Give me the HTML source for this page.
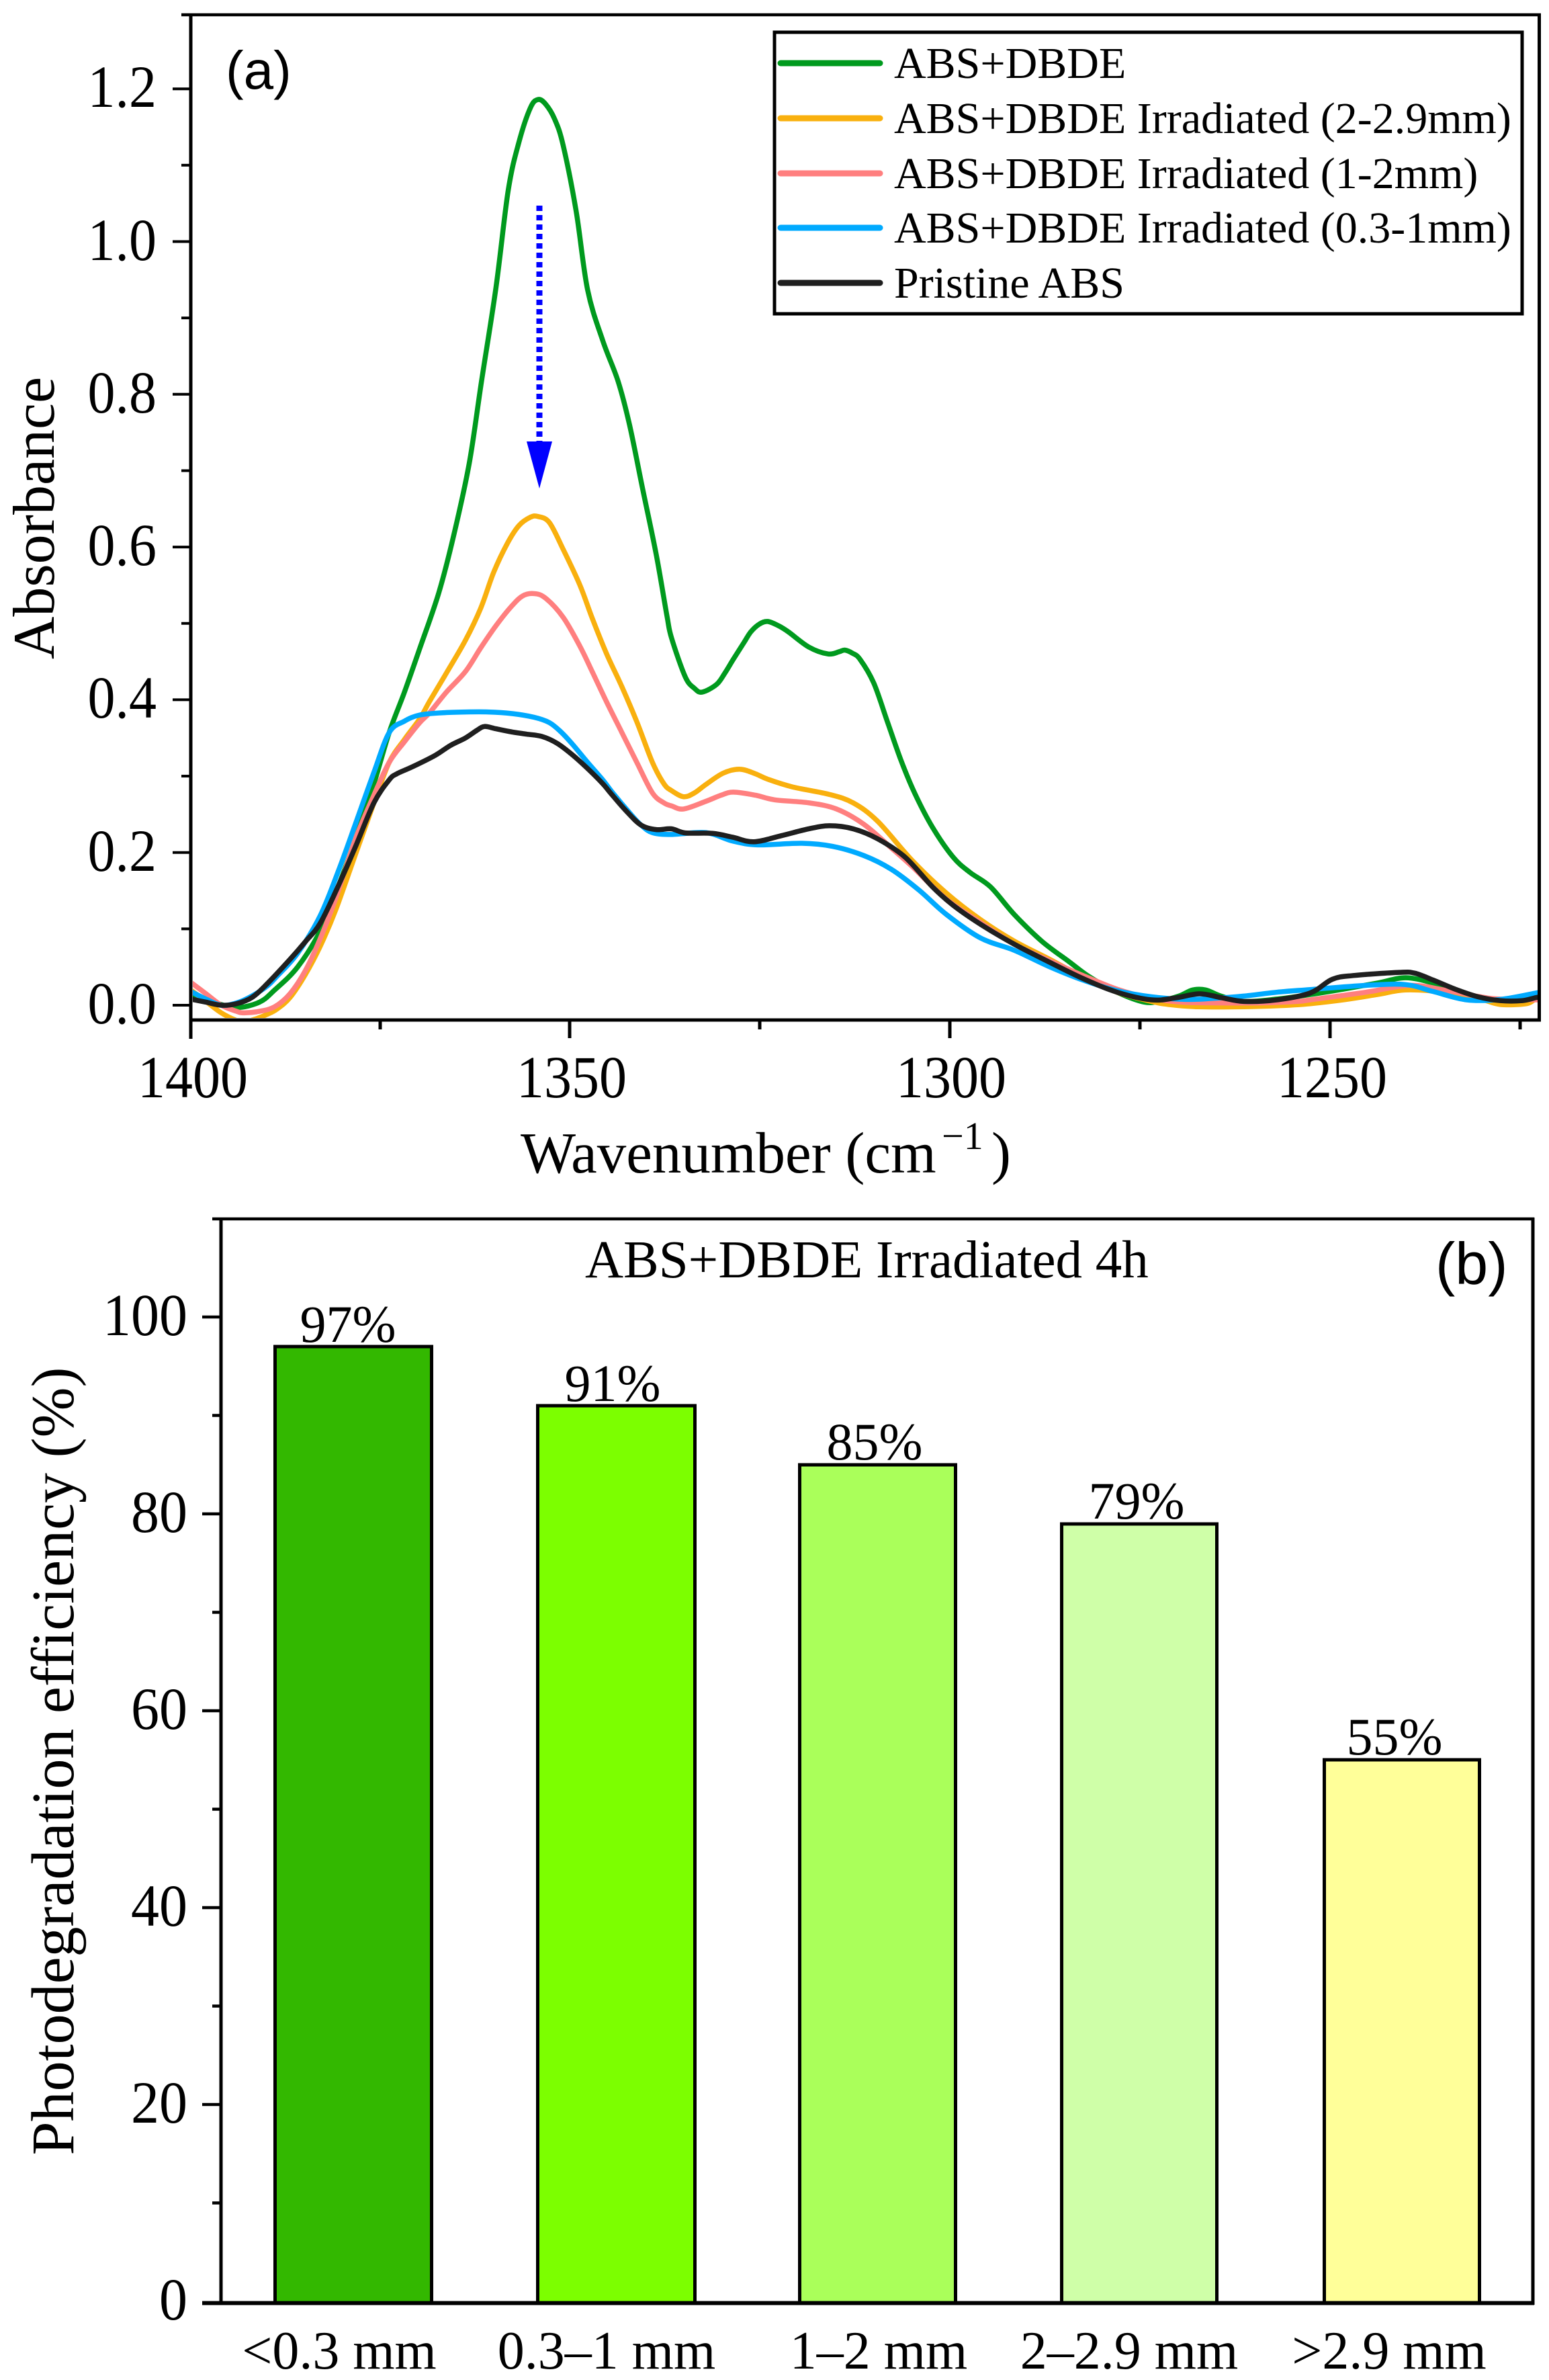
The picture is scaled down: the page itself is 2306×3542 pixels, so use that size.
<!DOCTYPE html>
<html>
<head>
<meta charset="utf-8">
<style>
  html,body{margin:0;padding:0;background:#fff;}
  svg{display:block;}
  .serif{font-family:"Liberation Serif","Times New Roman",serif;fill:#000;}
  .sans{font-family:"Liberation Sans",Arial,sans-serif;fill:#000;}
</style>
</head>
<body>
<svg id="fig" width="2306" height="3542" viewBox="0 0 2306 3542" xmlns="http://www.w3.org/2000/svg">
<defs>
  <clipPath id="clipA"><rect x="287" y="24" width="2003" height="1491"/></clipPath>
</defs>
<rect x="0" y="0" width="2306" height="3542" fill="#fff"/>

<!-- ================= PANEL A ================= -->
<g id="curvesOuter" clip-path="url(#clipA)">
 <g id="curvesInner" transform="matrix(-11.36 0 0 -1136.5 16188 1496)" fill="none" stroke-linejoin="round" stroke-linecap="round">
  <polyline class="crv" vector-effect="non-scaling-stroke" stroke="#009A1E" stroke-width="7.5" points="1400,0.015 1397,0.004 1394,-0.003 1391,0.004 1389,0.02 1386,0.05 1383,0.098 1380.5,0.16 1378.4,0.218 1376,0.29 1374,0.357 1372,0.41 1370,0.467 1367.5,0.54 1365.5,0.617 1363.5,0.71 1361.9,0.817 1360,0.94 1358.4,1.067 1357,1.13 1355.5,1.175 1354.5,1.186 1353.5,1.18 1352.3,1.16 1351.2,1.126 1349.5,1.04 1348,0.937 1346,0.87 1344,0.817 1342.5,0.76 1340.8,0.677 1339,0.59 1337.6,0.51 1337,0.481 1335.2,0.43 1334,0.415 1333,0.41 1331.1,0.42 1330,0.435 1328.9,0.453 1327.5,0.475 1326.6,0.489 1325.5,0.499 1324.4,0.5025 1323,0.497 1321.7,0.489 1319,0.469 1316.5,0.46 1315,0.463 1314.3,0.465 1313.3,0.461 1312.3,0.453 1310.5,0.422 1308.7,0.371 1306.9,0.32 1305.1,0.277 1302.8,0.233 1300.1,0.194 1297.9,0.174 1295.2,0.155 1292.1,0.119 1288.5,0.084 1284.9,0.057 1282.2,0.037 1278.6,0.017 1275,0.004 1272.8,0.006 1270.5,0.012 1268.7,0.02 1267,0.02 1265,0.012 1262,0.005 1257.7,0.008 1253.3,0.014 1249,0.021 1244.5,0.029 1240.8,0.036 1237.2,0.029 1234.3,0.019 1231.3,0.01 1228.4,0.005 1223.7,0.009 1222,0.011"/>
  <polyline class="crv" vector-effect="non-scaling-stroke" stroke="#F9B00E" stroke-width="7.5" points="1400,0.02 1398,0.005 1396,-0.01 1394,-0.02 1393,-0.022 1391.5,-0.018 1390,-0.012 1388.7,-0.005 1387,0.01 1385,0.04 1383,0.078 1381,0.125 1378.4,0.198 1376,0.265 1374,0.318 1372,0.348 1370,0.375 1368.7,0.398 1366.5,0.435 1364,0.478 1362,0.52 1360.3,0.567 1358.5,0.605 1357,0.628 1355.5,0.639 1354.5,0.64 1353,0.632 1351.2,0.597 1349,0.55 1347.4,0.507 1345.5,0.46 1343.5,0.417 1341.5,0.37 1339.5,0.318 1338,0.29 1337,0.281 1335.4,0.273 1334,0.278 1332.5,0.289 1330.2,0.304 1328,0.309 1326,0.303 1324.4,0.296 1321.2,0.286 1316.3,0.276 1313.2,0.265 1310,0.241 1305.5,0.19 1301,0.147 1296.5,0.112 1292.1,0.084 1287.6,0.061 1283.1,0.037 1278.6,0.017 1274.1,0.005 1271.9,0.001 1268,-0.002 1262,-0.002 1256,0.0 1253.3,0.002 1249,0.007 1244.5,0.014 1240.8,0.02 1235.8,0.017 1231,0.008 1228.4,0.001 1225,0.002 1223.7,0.008 1222,0.009"/>
  <polyline class="crv" vector-effect="non-scaling-stroke" stroke="#FF7F7F" stroke-width="7.5" points="1400,0.03 1398,0.015 1396,0.0 1394,-0.008 1393,-0.01 1391,-0.008 1389,-0.002 1387,0.015 1385,0.045 1383,0.088 1381,0.14 1378.4,0.218 1376,0.275 1374,0.318 1372,0.345 1370,0.37 1368.7,0.383 1366.5,0.41 1364,0.437 1362,0.468 1360,0.497 1358,0.522 1356.5,0.536 1355,0.539 1353.5,0.533 1351.2,0.508 1349,0.47 1347.4,0.437 1345.5,0.397 1343.5,0.357 1341.5,0.317 1339.5,0.278 1338,0.265 1337,0.261 1335.4,0.257 1332.5,0.267 1330.5,0.275 1328.9,0.279 1326,0.275 1323.5,0.269 1319,0.265 1315.4,0.257 1311.8,0.237 1308.2,0.206 1305.5,0.182 1301,0.139 1296.5,0.108 1292.1,0.08 1287.6,0.059 1283.1,0.039 1278.6,0.021 1274.1,0.009 1270,0.004 1265,0.003 1260,0.003 1255,0.005 1253.3,0.007 1246,0.017 1240.2,0.026 1235.8,0.02 1231,0.011 1228.4,0.008 1223.7,0.007 1222,0.007"/>
  <polyline class="crv" vector-effect="non-scaling-stroke" stroke="#00AAFF" stroke-width="7.5" points="1400,0.018 1398,0.008 1396,0.0 1394,0.003 1392,0.012 1390,0.025 1388.7,0.038 1386,0.068 1383,0.118 1380.5,0.18 1378.4,0.238 1376,0.305 1374,0.357 1372,0.372 1370,0.38 1367,0.383 1364,0.384 1361,0.384 1358,0.382 1355,0.377 1353,0.37 1351.5,0.358 1350,0.342 1348,0.318 1346,0.295 1344.7,0.278 1342.5,0.252 1341,0.236 1339.5,0.226 1337,0.2236 1332.5,0.226 1329,0.215 1325.7,0.21 1319.9,0.212 1315.9,0.208 1311.8,0.196 1308.2,0.178 1304.6,0.151 1301,0.119 1296.5,0.088 1292.1,0.072 1287.6,0.051 1283.1,0.033 1278.6,0.019 1274.1,0.011 1269.6,0.0076 1266,0.009 1262,0.012 1257.7,0.017 1253.3,0.0205 1246,0.026 1240.8,0.027 1237.2,0.018 1232.8,0.007 1228.4,0.0076 1223.7,0.016 1222,0.02"/>
  <polyline class="crv" vector-effect="non-scaling-stroke" stroke="#1F1F1F" stroke-width="7.5" points="1400,0.008 1398,0.004 1396,0.0 1394,0.002 1392,0.01 1390,0.028 1387,0.06 1385,0.083 1383,0.108 1380.5,0.16 1378.4,0.208 1376,0.265 1374,0.295 1373,0.303 1371,0.312 1368,0.327 1366,0.34 1364,0.35 1362.5,0.36 1361.5,0.365 1360,0.362 1358,0.358 1356,0.355 1354,0.352 1352,0.343 1350,0.328 1348,0.31 1346,0.29 1345,0.278 1343,0.255 1341,0.236 1339,0.23 1337,0.231 1335.2,0.2256 1331.6,0.225 1329,0.22 1326.2,0.214 1322.6,0.222 1319,0.231 1316.3,0.235 1313.2,0.231 1310,0.218 1306.4,0.194 1302.8,0.155 1300.1,0.131 1296.5,0.106 1292.1,0.08 1287.6,0.057 1283.1,0.035 1278.6,0.017 1274.1,0.007 1271,0.0095 1267.8,0.015 1265,0.01 1262,0.005 1257.7,0.007 1253.3,0.016 1250.4,0.034 1247.5,0.039 1241.6,0.043 1239.6,0.042 1237.2,0.033 1234.3,0.021 1231.3,0.011 1228.4,0.006 1225.5,0.006 1223.7,0.01 1222,0.013"/>
 </g>
</g>

<!-- blue dotted arrow -->
<line x1="803" y1="306" x2="803" y2="660" stroke="#0000FF" stroke-width="9" stroke-dasharray="8 6"/>
<polygon points="784,657 822,657 803,727" fill="#0000FF"/>

<!-- frame A -->
<g stroke="#000" fill="none">
  <line x1="270" y1="22" x2="2294" y2="22" stroke-width="4.5"/>
  <line x1="2291.5" y1="20" x2="2291.5" y2="1520" stroke-width="5"/>
  <line x1="284" y1="20" x2="284" y2="1546" stroke-width="5"/>
  <line x1="282" y1="1518" x2="2294" y2="1518" stroke-width="5"/>
  <g stroke-width="4">
    <line x1="257" y1="1496" x2="284" y2="1496"/>
    <line x1="270" y1="1382.35" x2="284" y2="1382.35"/>
    <line x1="257" y1="1268.7" x2="284" y2="1268.7"/>
    <line x1="270" y1="1155.05" x2="284" y2="1155.05"/>
    <line x1="257" y1="1041.4" x2="284" y2="1041.4"/>
    <line x1="270" y1="927.75" x2="284" y2="927.75"/>
    <line x1="257" y1="814.1" x2="284" y2="814.1"/>
    <line x1="270" y1="700.45" x2="284" y2="700.45"/>
    <line x1="257" y1="586.8" x2="284" y2="586.8"/>
    <line x1="270" y1="473.15" x2="284" y2="473.15"/>
    <line x1="257" y1="359.5" x2="284" y2="359.5"/>
    <line x1="270" y1="245.85" x2="284" y2="245.85"/>
    <line x1="257" y1="132.2" x2="284" y2="132.2"/>
  </g>
  <g stroke-width="5">
    <line x1="566" y1="1518" x2="566" y2="1532"/>
    <line x1="848" y1="1518" x2="848" y2="1545"/>
    <line x1="1131" y1="1518" x2="1131" y2="1532"/>
    <line x1="1414" y1="1518" x2="1414" y2="1545"/>
    <line x1="1697" y1="1518" x2="1697" y2="1532"/>
    <line x1="1980" y1="1518" x2="1980" y2="1545"/>
    <line x1="2263" y1="1518" x2="2263" y2="1532"/>
  </g>
</g>

<!-- y tick labels A -->
<g class="serif" font-size="82" text-anchor="end">
  <text transform="translate(233,1523) scale(1,1.08)">0.0</text>
  <text transform="translate(233,1296) scale(1,1.08)">0.2</text>
  <text transform="translate(233,1068) scale(1,1.08)">0.4</text>
  <text transform="translate(233,841) scale(1,1.08)">0.6</text>
  <text transform="translate(233,614) scale(1,1.08)">0.8</text>
  <text transform="translate(233,387) scale(1,1.08)">1.0</text>
  <text transform="translate(233,159) scale(1,1.08)">1.2</text>
</g>
<!-- x tick labels A -->
<g class="serif" font-size="82" text-anchor="middle">
  <text transform="translate(287,1633) scale(1,1.08)">1400</text>
  <text transform="translate(851,1633) scale(1,1.08)">1350</text>
  <text transform="translate(1416,1633) scale(1,1.08)">1300</text>
  <text transform="translate(1983,1633) scale(1,1.08)">1250</text>
</g>
<!-- axis titles A -->
<text class="serif" font-size="88" text-anchor="middle" transform="translate(80,771) rotate(-90)">Absorbance</text>
<text class="serif" font-size="87" x="775" y="1745">Wavenumber (cm</text>
<text class="serif" font-size="58" x="1402" y="1710">−1</text>
<text class="serif" font-size="87" x="1476" y="1745">)</text>
<!-- (a) -->
<text class="sans" font-size="80" x="336" y="132">(a)</text>

<!-- legend -->
<rect x="1153" y="48" width="1113" height="419" fill="#fff" stroke="#000" stroke-width="5"/>
<g stroke-width="9" stroke-linecap="round">
  <line x1="1162" y1="94" x2="1310" y2="94" stroke="#009A1E"/>
  <line x1="1162" y1="176" x2="1310" y2="176" stroke="#F9B00E"/>
  <line x1="1162" y1="258" x2="1310" y2="258" stroke="#FF7F7F"/>
  <line x1="1162" y1="339" x2="1310" y2="339" stroke="#00AAFF"/>
  <line x1="1162" y1="421" x2="1310" y2="421" stroke="#1F1F1F"/>
</g>
<g class="serif" font-size="66">
  <text x="1331" y="116">ABS+DBDE</text>
  <text x="1331" y="198">ABS+DBDE Irradiated (2-2.9mm)</text>
  <text x="1331" y="280">ABS+DBDE Irradiated (1-2mm)</text>
  <text x="1331" y="361">ABS+DBDE Irradiated (0.3-1mm)</text>
  <text x="1331" y="443">Pristine ABS</text>
</g>

<!-- ================= PANEL B ================= -->
<g stroke="#000" stroke-width="5" stroke-linejoin="miter">
  <rect x="409.5" y="2004" width="233" height="1423" fill="#33B800"/>
  <rect x="800.5" y="2092" width="234" height="1335" fill="#7CFF00"/>
  <rect x="1190.5" y="2180" width="232" height="1247" fill="#AAFF5A"/>
  <rect x="1580.5" y="2268" width="231" height="1159" fill="#CFFFA8"/>
  <rect x="1971.5" y="2619" width="231" height="808" fill="#FFFF99"/>
</g>

<g stroke="#000" fill="none">
  <line x1="316" y1="1814" x2="2284" y2="1814" stroke-width="4.5"/>
  <line x1="2282" y1="1812" x2="2282" y2="3430" stroke-width="5"/>
  <line x1="329" y1="1812" x2="329" y2="3430" stroke-width="5"/>
  <line x1="301" y1="3427.5" x2="2284" y2="3427.5" stroke-width="6"/>
  <g stroke-width="4.5">
    <line x1="301" y1="3132" x2="329" y2="3132"/>
    <line x1="301" y1="2839" x2="329" y2="2839"/>
    <line x1="301" y1="2546" x2="329" y2="2546"/>
    <line x1="301" y1="2253" x2="329" y2="2253"/>
    <line x1="301" y1="1960" x2="329" y2="1960"/>
    <line x1="316" y1="3278.5" x2="329" y2="3278.5"/>
    <line x1="316" y1="2985.5" x2="329" y2="2985.5"/>
    <line x1="316" y1="2692.5" x2="329" y2="2692.5"/>
    <line x1="316" y1="2399.5" x2="329" y2="2399.5"/>
    <line x1="316" y1="2106.5" x2="329" y2="2106.5"/>
  </g>
</g>

<g class="serif" font-size="84" text-anchor="end">
  <text transform="translate(279,3452) scale(1,1.06)">0</text>
  <text transform="translate(279,3159) scale(1,1.06)">20</text>
  <text transform="translate(279,2866) scale(1,1.06)">40</text>
  <text transform="translate(279,2573) scale(1,1.06)">60</text>
  <text transform="translate(279,2280) scale(1,1.06)">80</text>
  <text transform="translate(279,1987) scale(1,1.06)">100</text>
</g>

<g class="serif" font-size="78" text-anchor="middle">
  <text x="518" y="1997">97%</text>
  <text x="912" y="2085">91%</text>
  <text x="1302" y="2172">85%</text>
  <text x="1692" y="2260">79%</text>
  <text x="2076" y="2611">55%</text>
</g>

<g class="serif" font-size="80" text-anchor="middle">
  <text x="505" y="3525">&lt;0.3 mm</text>
  <text x="903" y="3525">0.3–1 mm</text>
  <text x="1308" y="3525">1–2 mm</text>
  <text x="1681" y="3525">2–2.9 mm</text>
  <text x="2068" y="3525">&gt;2.9 mm</text>
</g>

<text class="serif" font-size="79" x="871" y="1901">ABS+DBDE Irradiated 4h</text>
<text class="sans" font-size="88" x="2137" y="1911">(b)</text>

<text class="serif" font-size="90" text-anchor="middle" transform="translate(109,2621) rotate(-90)">Photodegradation efficiency (%)</text>
</svg>
<script>
(function(){
  var NS='http://www.w3.org/2000/svg';
  var outer=document.getElementById('curvesOuter');
  var pls=Array.prototype.slice.call(document.querySelectorAll('polyline.crv'));
  pls.forEach(function(pl){
    var raw=pl.getAttribute('points').trim().split(/\s+/);
    var pts=raw.map(function(s){var p=s.split(',');var w=parseFloat(p[0]),a=parseFloat(p[1]);return [16188-11.36*w,1496-1136.5*a];});
    var d='M'+pts[0][0].toFixed(2)+','+pts[0][1].toFixed(2);
    for(var i=0;i<pts.length-1;i++){
      var p0=pts[Math.max(0,i-1)],p1=pts[i],p2=pts[i+1],p3=pts[Math.min(pts.length-1,i+2)];
      var c1x=p1[0]+(p2[0]-p0[0])/6,c1y=p1[1]+(p2[1]-p0[1])/6;
      var c2x=p2[0]-(p3[0]-p1[0])/6,c2y=p2[1]-(p3[1]-p1[1])/6;
      d+=' C'+c1x.toFixed(2)+','+c1y.toFixed(2)+' '+c2x.toFixed(2)+','+c2y.toFixed(2)+' '+p2[0].toFixed(2)+','+p2[1].toFixed(2);
    }
    var path=document.createElementNS(NS,'path');
    path.setAttribute('d',d);
    path.setAttribute('fill','none');
    path.setAttribute('stroke',pl.getAttribute('stroke'));
    path.setAttribute('stroke-width',pl.getAttribute('stroke-width'));
    path.setAttribute('stroke-linejoin','round');
    path.setAttribute('stroke-linecap','round');
    outer.appendChild(path);
    pl.parentNode.removeChild(pl);
  });
})();
</script>
</body>
</html>
